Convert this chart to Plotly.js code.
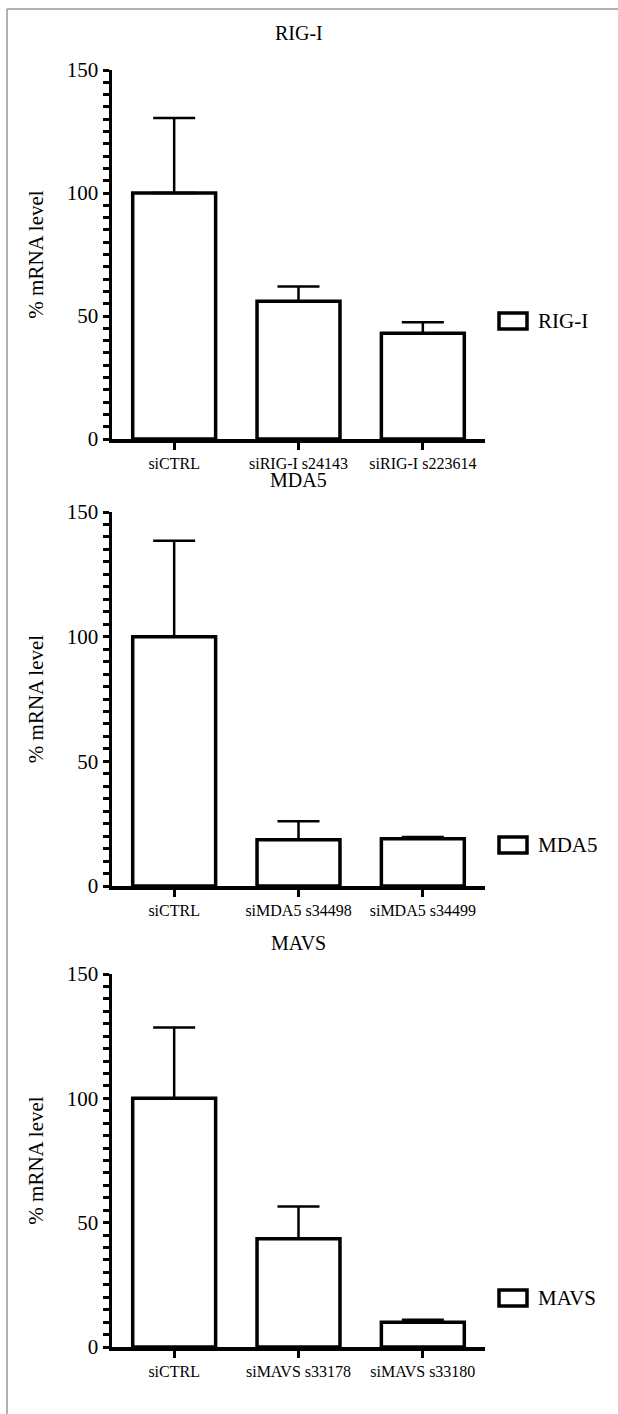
<!DOCTYPE html>
<html>
<head>
<meta charset="utf-8">
<script src="https://cdn.plot.ly/plotly-3.0.1.min.js"></script>
<style>html,body{margin:0;padding:0;background:#fff;}#chart{width:618px;height:1414px;}</style>
</head>
<body>
<div id="chart"></div>
<script>
// ---- data ----
const titles = ['RIG-I', 'MDA5', 'MAVS'];
const categories1 = ['siCTRL', 'siRIG-I s24143', 'siRIG-I s223614'];
const values1 = [100, 56, 43];
const errors1 = [30.5, 6, 4.5];
const categories2 = ['siCTRL', 'siMDA5 s34498', 'siMDA5 s34499'];
const values2 = [100, 18.5, 19];
const errors2 = [38.5, 7.5, 0.7];
const categories3 = ['siCTRL', 'siMAVS s33178', 'siMAVS s33180'];
const values3 = [100, 43.5, 10];
const errors3 = [28.5, 13, 1];
const yTicks = [0, 50, 100, 150];

// ---- layout helpers (pixels) ----
const W = 618, H = 1414;
const px = x => x / W;
const py = y => 1 - y / H;
const plotLeft = 112, plotRight = 485;
const panels = [
  {top: 70, bottom: 439, titleY: 33, legY: 321},
  {top: 512, bottom: 886, titleY: 480, legY: 845},
  {top: 974, bottom: 1347, titleY: 943, legY: 1298}
];
const cats = [categories1, categories2, categories3];
const vals = [values1, values2, values3];
const errs = [errors1, errors2, errors3];
const serif = '"Liberation Serif", "Times New Roman", serif';

const data = [];
const layout = {
  width: W, height: H,
  margin: {l: 0, r: 0, t: 0, b: 0},
  paper_bgcolor: '#fff', plot_bgcolor: '#fff',
  showlegend: false,
  bargap: 0.333,
  font: {family: serif, color: '#000'},
  annotations: [], shapes: []
};

panels.forEach((p, i) => {
  const n = i === 0 ? '' : String(i + 1);
  data.push({
    type: 'bar', x: cats[i], y: vals[i], name: titles[i],
    xaxis: 'x' + n, yaxis: 'y' + n,
    marker: {color: '#fff', line: {color: '#000', width: 3.5}},
    error_y: {type: 'data', array: errs[i], arrayminus: errs[i].map(() => 0), symmetric: false,
              color: '#000', thickness: 2.5, width: 21},
    hoverinfo: 'none'
  });
  layout['xaxis' + n] = {
    domain: [px(plotLeft), px(plotRight)], anchor: 'y' + n,
    type: 'category', range: [-0.5, 2.5], fixedrange: true,
    showline: true, linecolor: '#000', linewidth: 3.5, showgrid: false, zeroline: false,
    ticks: 'outside', ticklen: 7, tickwidth: 3, tickcolor: '#000',
    tickfont: {family: serif, size: 16, color: '#000'}
  };
  layout['yaxis' + n] = {
    domain: [py(p.bottom), py(p.top)], anchor: 'x' + n,
    range: [0, 150], fixedrange: true,
    tickvals: yTicks, ticktext: yTicks.map(String),
    showline: true, linecolor: '#000', linewidth: 3.5, showgrid: false, zeroline: false,
    ticks: 'outside', ticklen: 6, tickwidth: 3, tickcolor: '#000',
    minor: {dtick: 5, ticks: 'outside', ticklen: 6, tickwidth: 3, tickcolor: '#000', showgrid: false},
    tickfont: {family: serif, size: 21, color: '#000'},
    title: {text: '% mRNA level', font: {family: serif, size: 21, color: '#000'}, standoff: 18}
  };
  layout.annotations.push({
    xref: 'paper', yref: 'paper', x: px((plotLeft + plotRight) / 2), y: py(p.titleY),
    text: titles[i], showarrow: false, xanchor: 'center', yanchor: 'middle',
    font: {family: serif, size: 20, color: '#000'}
  });
  // legend key
  layout.shapes.push({
    type: 'rect', xref: 'paper', yref: 'paper',
    x0: px(499), x1: px(527), y0: py(p.legY - 8), y1: py(p.legY + 8),
    line: {color: '#000', width: 3.5}, fillcolor: '#fff'
  });
  layout.annotations.push({
    xref: 'paper', yref: 'paper', x: px(536), y: py(p.legY),
    text: titles[i], showarrow: false, xanchor: 'left', yanchor: 'middle',
    font: {family: serif, size: 21, color: '#000'}
  });
});

// frame lines
layout.shapes.push({type: 'line', xref: 'paper', yref: 'paper', x0: px(7), x1: px(7), y0: py(9), y1: 0,
  line: {color: '#999', width: 1.5}});
layout.shapes.push({type: 'line', xref: 'paper', yref: 'paper', x0: px(7), x1: 1, y0: py(9), y1: py(9),
  line: {color: '#999', width: 1.5}});

Plotly.newPlot('chart', data, layout, {displayModeBar: false, staticPlot: true});
</script>
</body>
</html>
